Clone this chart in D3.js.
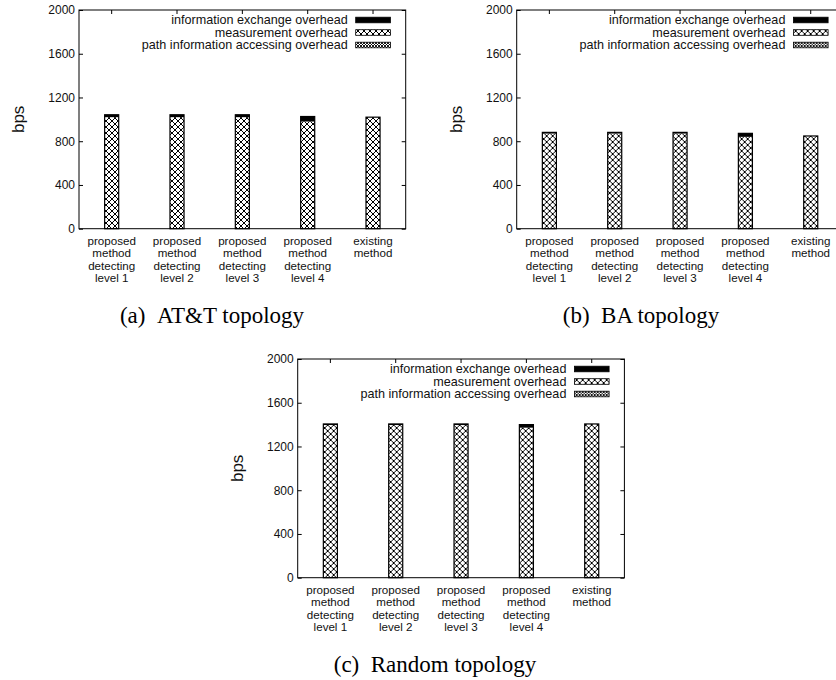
<!DOCTYPE html>
<html>
<head>
<meta charset="utf-8">
<script src="https://cdn.jsdelivr.net/npm/d3@7"></script>
<style>
  html, body { margin: 0; padding: 0; background: #fff; }
  svg { display: block; }
  .tick text { font-family: "Liberation Sans", Arial, sans-serif; font-size: 12px; fill: #111; }
</style>
</head>
<body>
<svg id="chart" width="836" height="680"></svg>
<script>
// Categories (multi-line labels under each bar)
const categories = ["level1", "level2", "level3", "level4", "existing"];
const categoryLines = [
  ["proposed", "method", "detecting", "level 1"],
  ["proposed", "method", "detecting", "level 2"],
  ["proposed", "method", "detecting", "level 3"],
  ["proposed", "method", "detecting", "level 4"],
  ["existing", "method"]
];
const yTicks = [0, 400, 800, 1200, 1600, 2000];
const seriesNames = [
  "information exchange overhead",
  "measurement overhead",
  "path information accessing overhead"
];

// Overhead values (bps), one array per series per topology
const attPath        = [4, 4, 4, 4, 0];
const attMeasurement = [1016, 1016, 1016, 976, 1020];
const attExchange    = [22, 22, 22, 46, 0];

const baPath        = [4, 4, 4, 4, 0];
const baMeasurement = [866, 866, 866, 836, 848];
const baExchange    = [11, 11, 11, 32, 0];

const rndPath        = [4, 4, 4, 4, 0];
const rndMeasurement = [1392, 1392, 1392, 1368, 1406];
const rndExchange    = [10, 10, 10, 28, 0];

const captions = ["(a)\u2002AT&T topology", "(b)\u2002BA topology", "(c)\u2002Random topology"];

const svg = d3.select("#chart");
const defs = svg.append("defs");

// Fill patterns: coarse crosshatch for measurement, fine crosshatch for path access
function crosshatch(id, size, sw) {
  const p = defs.append("pattern")
    .attr("id", id).attr("patternUnits", "userSpaceOnUse")
    .attr("width", size).attr("height", size);
  p.append("rect").attr("width", size).attr("height", size).attr("fill", "#fff");
  p.append("path")
    .attr("d", `M0,0L${size},${size}M${size},0L0,${size}M${-size/2},${size/2}L${size/2},${-size/2}`)
    .attr("stroke", "#000").attr("stroke-width", sw).attr("fill", "none");
  return `url(#${id})`;
}
const fills = [
  "#000",
  crosshatch("pMeas", 6, 1),
  crosshatch("pPath", 3, 0.9)
];

const W = 326.7, H = 218.7;

function panel(tx, ty, path, meas, exch, caption, capX) {
  const g = svg.append("g").attr("transform", `translate(${tx},${ty})`);
  const x = d3.scaleBand().domain(categories).range([0, W])
    .paddingInner(0.785).paddingOuter(0.3925);
  const y = d3.scaleLinear().domain([0, 2000]).range([H, 0]);

  // axes with inward ticks on all four sides
  const left = g.append("g").call(d3.axisLeft(y).tickValues(yTicks).tickSize(-4).tickPadding(8).tickFormat(d3.format("d")));
  left.select(".domain").remove();
  left.selectAll("line").attr("stroke", "#000");
  left.selectAll("text").attr("dx", 4);
  const right = g.append("g").attr("transform", `translate(${W},0)`)
    .call(d3.axisRight(y).tickValues(yTicks).tickSize(-4).tickFormat(""));
  right.select(".domain").remove();
  const top = g.append("g").call(d3.axisTop(x).tickSize(-4).tickFormat(""));
  top.select(".domain").remove();
  const bottom = g.append("g").attr("transform", `translate(0,${H})`)
    .call(d3.axisBottom(x).tickSize(-4).tickFormat(""));
  bottom.select(".domain").remove();

  // legend
  const lg = g.append("g");
  seriesNames.forEach((name, i) => {
    const cy = 10 + i * 12.5;
    lg.append("text").attr("x", W - 58).attr("y", cy).attr("dy", "0.35em")
      .attr("text-anchor", "end")
      .style("font-family", "'Liberation Sans', Arial, sans-serif").style("font-size", "12.6px")
      .attr("fill", "#111").text(name);
    lg.append("rect").attr("x", W - 50).attr("y", cy - 2.8).attr("width", 34.7).attr("height", 5.6)
      .attr("fill", fills[i]).attr("stroke", "#000").attr("stroke-width", 0.8);
  });

  // stacked bars: path access at bottom, measurement, exchange on top
  const rows = categories.map((c, i) => ({ c, path: path[i], meas: meas[i], exch: exch[i] }));
  const stack = d3.stack().keys(["path", "meas", "exch"])(rows);
  const fillFor = { path: fills[2], meas: fills[1], exch: fills[0] };
  stack.forEach(layer => {
    g.append("g").selectAll("rect").data(layer).join("rect")
      .attr("x", d => x(d.data.c))
      .attr("y", d => y(d[1]))
      .attr("width", x.bandwidth())
      .attr("height", d => y(d[0]) - y(d[1]))
      .attr("fill", fillFor[layer.key]);
  });
  // outline around each whole bar
  g.append("g").selectAll("rect").data(rows).join("rect")
    .attr("x", d => x(d.c)).attr("y", d => y(d.path + d.meas + d.exch))
    .attr("width", x.bandwidth())
    .attr("height", d => y(0) - y(d.path + d.meas + d.exch))
    .attr("fill", "none").attr("stroke", "#000").attr("stroke-width", 1.2);

  // frame
  g.append("rect").attr("width", W).attr("height", H)
    .attr("fill", "none").attr("stroke", "#000").attr("stroke-width", 1);

  // category labels, one text per line
  categories.forEach((c, i) => {
    categoryLines[i].forEach((line, k) => {
      g.append("text").attr("text-anchor", "middle")
        .attr("x", x(c) + x.bandwidth() / 2).attr("y", H + 16.3 + k * 12.3)
        .style("font-family", "'Liberation Sans', Arial, sans-serif").style("font-size", "11.6px")
        .attr("fill", "#111").text(line);
    });
  });

  // y label
  g.append("text").attr("transform", `translate(-61,${H / 2}) rotate(-90)`)
    .attr("text-anchor", "middle").attr("dy", "0.35em")
    .style("font-family", "'Liberation Sans', Arial, sans-serif").style("font-size", "17px")
    .attr("fill", "#111").text("bps");

  // caption
  svg.append("text").attr("x", capX).attr("y", ty + H + 94).attr("text-anchor", "middle")
    .style("font-family", "'Liberation Serif', 'Times New Roman', serif").style("font-size", "23px")
    .attr("fill", "#000").text(caption);
}

panel(79, 10, attPath, attMeasurement, attExchange, captions[0], 212);
panel(516.7, 10, baPath, baMeasurement, baExchange, captions[1], 641);
panel(297.7, 359, rndPath, rndMeasurement, rndExchange, captions[2], 435);
</script>
</body>
</html>
